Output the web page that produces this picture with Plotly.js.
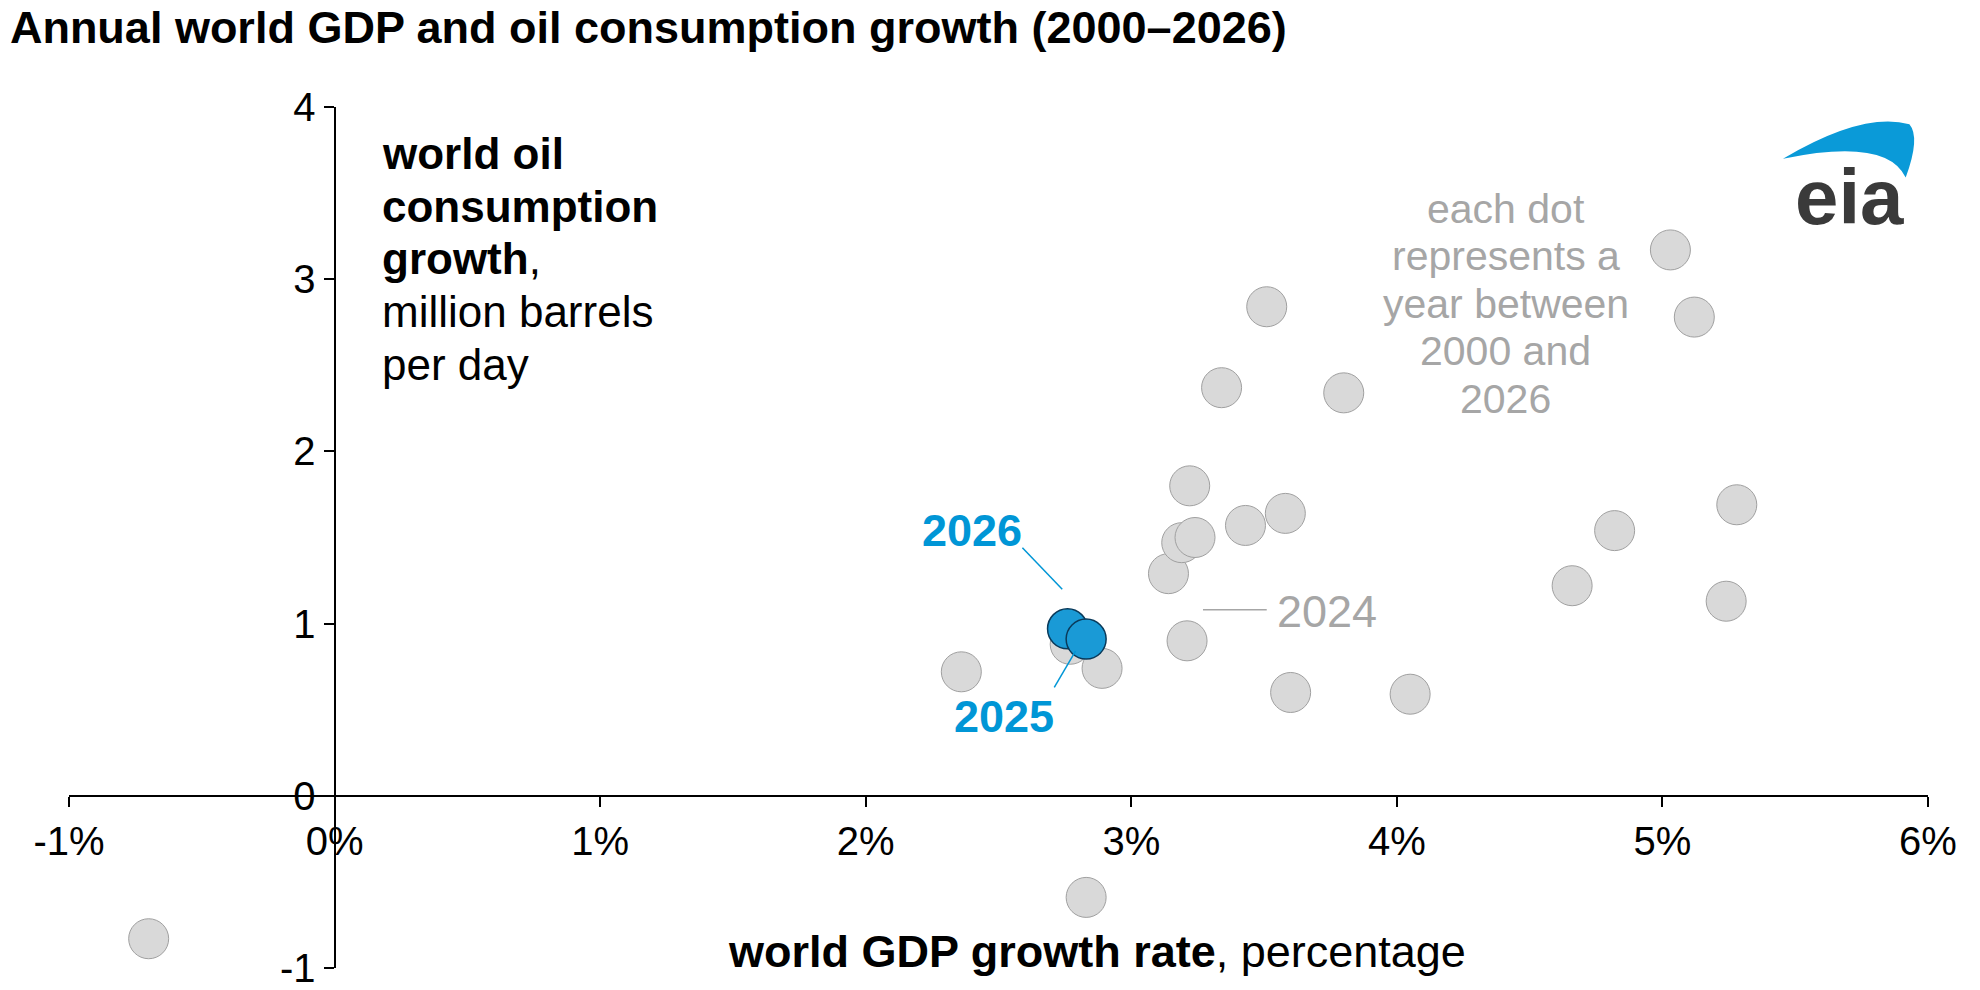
<!DOCTYPE html>
<html>
<head>
<meta charset="utf-8">
<script src="https://cdn.plot.ly/plotly-3.0.1.min.js"></script>
<style>body{margin:0;background:#fff}#chart{width:1980px;height:990px}</style>
</head>
<body>
<div id="chart"></div>
<script>
// world GDP growth (%) and oil consumption growth (million b/d), 2000-2024
const gdpHistory = [-0.70, 2.83, 2.36, 2.77, 2.89, 3.21, 3.60, 4.05, 3.14, 3.19, 3.24, 3.22,
    3.43, 3.58, 3.34, 3.51, 3.80, 4.66, 4.82, 5.24, 5.28, 5.03, 5.12];
const oilHistory = [-0.83, -0.59, 0.72, 0.88, 0.74, 0.90, 0.60, 0.59, 1.29, 1.47, 1.50, 1.80,
    1.57, 1.64, 2.37, 2.84, 2.34, 1.22, 1.54, 1.13, 1.69, 3.17, 2.78];
// forecast years
const forecastYears = ["2026", "2025"];
const gdpForecast = [2.76, 2.83];
const oilForecast = [0.97, 0.91];
const xTicks = [-1, 0, 1, 2, 3, 4, 5, 6];
const xTickText = ["-1%", "0%", "1%", "2%", "3%", "4%", "5%", "6%"];
const yTicks = [-1, 0, 1, 2, 3, 4];
const yTickText = ["-1", "0", "1", "2", "3", "4"];
const yLabelLines = ["<b>world oil</b>", "<b>consumption</b>", "<b>growth</b>,", "million barrels", "per day"];
const noteLines = ["each dot", "represents a", "year between", "2000 and", "2026"];

const grey = "#a6a6a6";
const blue = "#0096d6";
const font = "Liberation Sans, Arial, sans-serif";

const data = [
    {
        x: gdpHistory, y: oilHistory, type: "scatter", mode: "markers",
        marker: { size: 40, color: "#d9d9d9", line: { color: "#a0a0a0", width: 1 } },
        hoverinfo: "skip"
    },
    {
        x: gdpForecast, y: oilForecast, type: "scatter", mode: "markers",
        text: forecastYears,
        marker: { size: 40, color: "#1a9ad6", line: { color: "#0a3a5a", width: 1.5 } },
        hovertemplate: "%{text}<extra></extra>"
    }
];

const annotations = [
    {
        x: 2.40, y: 1.54, xanchor: "center", yanchor: "middle", showarrow: false,
        text: "<b>2026</b>", font: { size: 45, color: blue }
    },
    {
        x: 2.52, y: 0.46, xanchor: "center", yanchor: "middle", showarrow: false,
        text: "<b>2025</b>", font: { size: 45, color: blue }
    },
    {
        x: 3.54, y: 1.07, xanchor: "left", yanchor: "middle", showarrow: false,
        text: "2024", font: { size: 45, color: grey }
    },
    {
        x: 2.87, y: -0.905, xanchor: "center", yanchor: "middle", showarrow: false,
        text: "<b>world GDP growth rate</b>, percentage", font: { size: 45 }
    },
    {
        xref: "paper", yref: "paper", x: 0.988, y: 0.895, xanchor: "right", yanchor: "middle",
        showarrow: false, text: "<b>eia</b>", font: { size: 78, color: "#3a3a3a" }
    }
];
yLabelLines.forEach((line, i) => annotations.push({
    x: 0.17, y: 3.73 - i * 0.306, xanchor: "left", yanchor: "middle", showarrow: false,
    text: line, font: { size: 44 }
}));
noteLines.forEach((line, i) => annotations.push({
    x: 4.41, y: 3.41 - i * 0.276, xanchor: "center", yanchor: "middle", showarrow: false,
    text: line, font: { size: 41, color: grey }
}));

const layout = {
    width: 1980, height: 990,
    margin: { l: 69, r: 52, t: 107, b: 22 },
    showlegend: false,
    plot_bgcolor: "#fff", paper_bgcolor: "#fff",
    font: { family: font, size: 40, color: "#000" },
    title: {
        text: "<b>Annual world GDP and oil consumption growth (2000–2026)</b>",
        font: { size: 45 }, x: 0.005, xanchor: "left", y: 0.972, yanchor: "middle"
    },
    xaxis: {
        range: [-1, 6], anchor: "free", position: 0.2,
        showgrid: false, zeroline: false, showline: true, linecolor: "#000", linewidth: 2,
        ticks: "outside", tickcolor: "#000", ticklen: 10, tickwidth: 2,
        tickvals: xTicks, ticktext: xTickText, tickfont: { size: 40 }
    },
    yaxis: {
        range: [-1, 4], anchor: "free", position: 1 / 7,
        showgrid: false, zeroline: false, showline: true, linecolor: "#000", linewidth: 2,
        ticks: "outside", tickcolor: "#000", ticklen: 10, tickwidth: 2,
        tickvals: yTicks, ticktext: yTickText, tickfont: { size: 40 }
    },
    annotations: annotations,
    shapes: [
        { type: "line", x0: 2.59, y0: 1.44, x1: 2.74, y1: 1.20, line: { color: blue, width: 1.5 } },
        { type: "line", x0: 2.71, y0: 0.63, x1: 2.79, y1: 0.84, line: { color: blue, width: 1.5 } },
        { type: "line", x0: 3.27, y0: 1.08, x1: 3.51, y1: 1.08, line: { color: grey, width: 1.5 } },
        {
            type: "path", xref: "paper", yref: "paper",
            path: "M 0.922 0.94 Q 0.965 0.995 0.99 0.98 Q 0.996 0.965 0.988 0.918 Q 0.978 0.965 0.922 0.94 Z",
            fillcolor: "#0a9ad8", line: { width: 0 }
        }
    ]
};

Plotly.newPlot("chart", data, layout, { displayModeBar: false, staticPlot: true });
</script>
</body>
</html>
